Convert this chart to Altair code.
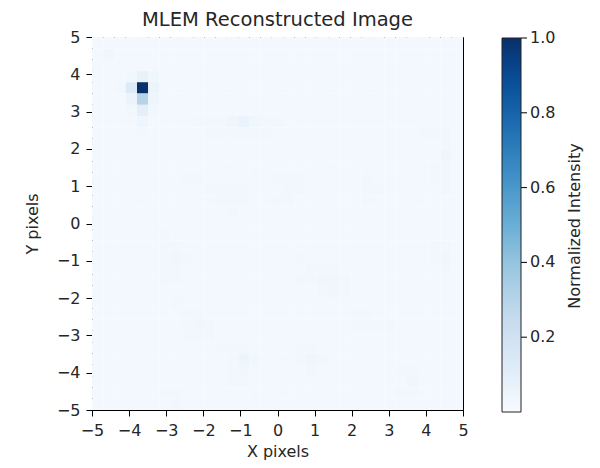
import altair as alt
import pandas as pd

# ---- data ----
N_CELLS = 33                    # image is 33 x 33 pixels
EXTENT = [-5, 5]                # x and y extent
BACKGROUND = 0.02               # typical normalized intensity of the flat background

# non-background cells: column (from left), row (from top), normalized value
cell_col = [4, 3, 5, 4, 3, 5, 4, 3, 5, 4, 3, 5, 4, 4, 2, 1,
            13, 12, 14, 11, 15, 12, 13,
            9, 10, 11, 16, 10, 11, 12, 13, 14, 15,
            31, 31, 31, 31, 31, 30, 30,
            8, 9, 10, 11, 12, 13, 11, 12, 13, 12,
            16, 17, 18, 17, 18, 16, 17,
            24, 24, 24, 25,
            6, 6, 7, 6, 7, 8, 6, 7, 6, 7,
            18, 19, 20, 21, 18, 19, 20, 21, 22, 20, 21, 22,
            30, 31, 30, 31, 31,
            7, 8, 9, 8, 9, 10, 9, 10, 8,
            23, 24, 24, 25, 26, 23,
            11, 12, 13, 12, 13, 14, 12, 13, 13, 12,
            18, 19, 18, 19, 20, 19,
            27, 28, 28, 28, 27,
            29, 30, 31,
            6, 7, 7]
cell_row = [4, 4, 4, 3, 3, 3, 5, 5, 5, 6, 6, 6, 7, 8, 4, 1,
            7, 7, 7, 7, 7, 8, 8,
            7, 7, 7, 7, 8, 8, 8, 8, 8, 8,
            9, 10, 11, 12, 13, 11, 12,
            12, 12, 13, 13, 13, 13, 14, 14, 14, 15,
            12, 12, 12, 13, 13, 14, 14,
            12, 13, 14, 13,
            17, 18, 18, 19, 19, 19, 20, 20, 21, 21,
            19, 20, 20, 20, 21, 21, 21, 21, 21, 22, 22, 22,
            18, 18, 19, 19, 20,
            23, 24, 24, 25, 25, 25, 26, 26, 26,
            24, 24, 25, 25, 25, 25,
            27, 27, 27, 28, 28, 28, 29, 29, 30, 30,
            27, 27, 28, 28, 28, 29,
            29, 29, 30, 31, 31,
            8, 8, 8,
            31, 31, 32]
cell_val = [1.0, 0.13, 0.06, 0.07, 0.035, 0.04, 0.30, 0.06, 0.045, 0.09, 0.035, 0.035, 0.045, 0.03, 0.035, 0.04,
            0.065, 0.045, 0.04, 0.03, 0.03, 0.03, 0.03,
            0.03, 0.03, 0.03, 0.03, 0.03, 0.03, 0.03, 0.03, 0.03, 0.03,
            0.035, 0.045, 0.035, 0.035, 0.035, 0.03, 0.03,
            0.03, 0.03, 0.03, 0.035, 0.03, 0.03, 0.03, 0.03, 0.03, 0.03,
            0.03, 0.03, 0.03, 0.03, 0.03, 0.03, 0.03,
            0.03, 0.03, 0.03, 0.03,
            0.033, 0.033, 0.033, 0.033, 0.04, 0.033, 0.033, 0.033, 0.033, 0.033,
            0.033, 0.033, 0.033, 0.033, 0.033, 0.033, 0.04, 0.04, 0.033, 0.033, 0.038, 0.033,
            0.033, 0.033, 0.033, 0.04, 0.033,
            0.033, 0.033, 0.033, 0.033, 0.038, 0.033, 0.033, 0.033, 0.033,
            0.033, 0.033, 0.033, 0.033, 0.033, 0.033,
            0.033, 0.033, 0.033, 0.033, 0.05, 0.033, 0.033, 0.04, 0.033, 0.033,
            0.035, 0.035, 0.035, 0.045, 0.035, 0.035,
            0.033, 0.033, 0.038, 0.033, 0.033,
            0.03, 0.03, 0.03,
            0.03, 0.03, 0.03]

tick_values = [-5, -4, -3, -2, -1, 0, 1, 2, 3, 4, 5]
cbar_values = [0.2, 0.4, 0.6, 0.8, 1.0]

# matplotlib "Blues" colormap stops
blues_stops = [0.0, 0.125, 0.25, 0.375, 0.5, 0.625, 0.75, 0.875, 1.0]
blues_colors = ["#f7fbff", "#deebf7", "#c6dbef", "#9ecae1", "#6baed6",
                "#4292c6", "#2171b5", "#08519c", "#08306b"]

# ---- build table ----
grid = {(c, r): BACKGROUND for c in range(N_CELLS) for r in range(N_CELLS)}
for c, r, v in zip(cell_col, cell_row, cell_val):
    grid[(c, r)] = v
step = (EXTENT[1] - EXTENT[0]) / N_CELLS
records = []
for (c, r), v in grid.items():
    records.append({
        "x": EXTENT[0] + c * step, "x2": EXTENT[0] + (c + 1) * step,
        "y": EXTENT[1] - r * step, "y2": EXTENT[1] - (r + 1) * step,
        "v": v,
    })
df = pd.DataFrame(records)

FONT = "DejaVu Sans"
FS = 16
TXT = "#262626"
axis_common = dict(values=tick_values, tickSize=6, tickColor="black", domainColor="black",
                   labelFontSize=FS, titleFontSize=FS, labelFont=FONT, titleFont=FONT,
                   labelColor=TXT, titleColor=TXT, titleFontWeight="normal",
                   grid=False, format="d", labelFlush=False)

heat = alt.Chart(df).mark_rect(strokeWidth=0).encode(
    x=alt.X("x:Q", scale=alt.Scale(domain=EXTENT, nice=False, zero=False),
            axis=alt.Axis(title="X pixels", titlePadding=5, labelPadding=6, **axis_common)),
    x2="x2:Q",
    y=alt.Y("y:Q", scale=alt.Scale(domain=EXTENT, nice=False, zero=False),
            axis=alt.Axis(title="Y pixels", titlePadding=16, labelPadding=6, **axis_common)),
    y2="y2:Q",
    color=alt.Color("v:Q",
                    scale=alt.Scale(domain=blues_stops, range=blues_colors, interpolate="rgb"),
                    legend=alt.Legend(title=None, orient="none", legendX=410, legendY=1,
                                      direction="vertical", gradientLength=374,
                                      gradientThickness=19, gradientStrokeColor="#222",
                                      gradientStrokeWidth=1, values=cbar_values,
                                      labelOpacity=0, labelExpr="''")),
)

# colorbar ticks and labels, placed by a [0, 1] scale matching the gradient
cbar_scale = alt.Scale(domain=[0, 1], range=[375, 1])
cbar_df = pd.DataFrame({"v": cbar_values})
cbar_ticks = alt.Chart(cbar_df).mark_rule(color="black", strokeWidth=1).encode(
    y=alt.Y("v:Q", scale=cbar_scale, axis=None),
    x=alt.value(429), x2=alt.value(435),
)
cbar_labels = alt.Chart(cbar_df).mark_text(
    align="left", baseline="middle", fontSize=FS, font=FONT, color=TXT
).encode(
    y=alt.Y("v:Q", scale=cbar_scale, axis=None),
    x=alt.value(438),
    text=alt.Text("v:Q", format=".1f"),
)

cbar_title = alt.Chart(pd.DataFrame({"t": ["Normalized Intensity"]})).mark_text(
    angle=270, fontSize=FS, font=FONT, color=TXT, baseline="middle", align="center"
).encode(x=alt.value(483), y=alt.value(189), text="t:N")

chart = alt.layer(heat, cbar_ticks, cbar_labels, cbar_title).resolve_scale(
    y="independent"
).properties(
    width=371, height=373,
    title=alt.TitleParams("MLEM Reconstructed Image", fontSize=19.5, font=FONT,
                          fontWeight="normal", color=TXT, offset=-1),
    autosize=alt.AutoSizeParams(type="none"),
    padding={"left": 84, "top": 29, "right": 122, "bottom": 51},
).configure_view(stroke="black", strokeWidth=1)

chart.save("out.html", embed_options={"renderer": "svg", "actions": False})
